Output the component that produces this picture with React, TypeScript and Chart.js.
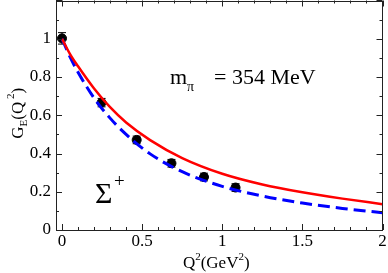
import React, { useEffect, useRef } from "react";
import { Chart, registerables } from "chart.js";

Chart.register(...registerables);

const curveQ2 = [0, 0.05, 0.1, 0.2, 0.3, 0.4, 0.55, 0.75, 1.0, 1.25, 1.5, 1.75, 2.0];
const redCurve = [1.0, 0.92, 0.856, 0.74, 0.642, 0.562, 0.47, 0.376, 0.294, 0.238, 0.197, 0.164, 0.135];
const blueCurve = [1.0, 0.905, 0.825, 0.69, 0.585, 0.5, 0.398, 0.305, 0.228, 0.178, 0.141, 0.113, 0.09];

const dataQ2 = [0, 0.247, 0.466, 0.683, 0.886, 1.083];
const dataGE = [1.002, 0.666, 0.471, 0.349, 0.277, 0.222];
const dataErr = [0.03, 0.022, 0.02, 0.02, 0.02, 0.02];

const xTicks = [0, 0.5, 1, 1.5, 2];
const yTicks = [0, 0.2, 0.4, 0.6, 0.8, 1];
const xMinor = 0.1;
const yMinor = 0.1;

const SERIF = "'Liberation Serif', 'DejaVu Serif', serif";
const OFF = 5; // canvas is shifted up by this amount

const decorPlugin = {
  id: "decor",
  beforeDatasetsDraw(chart: any) {
    const ctx = chart.ctx;
    const xs = chart.scales.x;
    const ys = chart.scales.y;
    ctx.save();
    ctx.strokeStyle = "#000";
    ctx.lineWidth = 1;
    for (let i = 0; i < dataQ2.length; i++) {
      const px = xs.getPixelForValue(dataQ2[i]);
      const pLo = ys.getPixelForValue(dataGE[i] - dataErr[i]);
      const pHi = ys.getPixelForValue(dataGE[i] + dataErr[i]);
      ctx.beginPath();
      ctx.moveTo(px, pLo);
      ctx.lineTo(px, pHi);
      ctx.moveTo(px - 4, pLo);
      ctx.lineTo(px + 4, pLo);
      ctx.moveTo(px - 4, pHi);
      ctx.lineTo(px + 4, pHi);
      ctx.stroke();
    }
    ctx.restore();
  },
  afterDraw(chart: any) {
    const ctx = chart.ctx;
    const a = chart.chartArea;
    const xs = chart.scales.x;
    const ys = chart.scales.y;
    ctx.save();
    ctx.strokeStyle = "#222";
    ctx.lineWidth = 1;
    ctx.strokeRect(Math.round(a.left) + 0.5, Math.round(a.top) + 0.5, Math.round(a.right - a.left) - 1, Math.round(a.bottom - a.top) - 1);
    ctx.beginPath();
    const xMinV = xs.min, xMaxV = xs.max;
    for (let k = Math.ceil(xMinV / xMinor - 1e-6); k * xMinor <= xMaxV + 1e-6; k++) {
      const v = k * xMinor;
      const major = Math.abs(v / 0.5 - Math.round(v / 0.5)) < 1e-6;
      const len = major ? 6 : 3;
      const px = Math.round(xs.getPixelForValue(v)) + 0.5;
      ctx.moveTo(px, a.bottom);
      ctx.lineTo(px, a.bottom - len);
      ctx.moveTo(px, a.top);
      ctx.lineTo(px, a.top + len);
    }
    for (let k = 0; k * yMinor <= ys.max + 1e-6; k++) {
      const v = k * yMinor;
      const major = Math.abs(v / 0.2 - Math.round(v / 0.2)) < 1e-6;
      const len = major ? 6 : 3;
      const py = Math.round(ys.getPixelForValue(v)) + 0.5;
      ctx.moveTo(a.left, py);
      ctx.lineTo(a.left + len, py);
      ctx.moveTo(a.right, py);
      ctx.lineTo(a.right - len, py);
    }
    ctx.stroke();

    ctx.fillStyle = "#000";
    ctx.textBaseline = "alphabetic";
    ctx.textAlign = "left";

    const big = "17px " + SERIF;
    const sup = "11px " + SERIF;
    const parts: [string, boolean][] = [["Q", false], ["2", true], ["(GeV", false], ["2", true], [")", false]];
    let w = 0;
    for (const [t, s] of parts) {
      ctx.font = s ? sup : big;
      w += ctx.measureText(t).width;
    }
    let x = (a.left + a.right) / 2 - w / 2 - 3;
    const by = 268 + OFF;
    for (const [t, s] of parts) {
      ctx.font = s ? sup : big;
      ctx.fillText(t, x, s ? by - 8 : by);
      x += ctx.measureText(t).width;
    }

    ctx.save();
    ctx.translate(23, (a.top + a.bottom) / 2 - 2);
    ctx.rotate(-Math.PI / 2);
    const yparts: [string, number][] = [["G", 0], ["E", 1], ["(Q", 0], [" 2", -1], [")", 0]];
    w = 0;
    for (const [t, s] of yparts) {
      ctx.font = s ? sup : big;
      w += ctx.measureText(t).width;
    }
    x = -w / 2;
    for (const [t, s] of yparts) {
      ctx.font = s ? sup : big;
      ctx.fillText(t, x, s === 1 ? 4 : s === -1 ? -9 : 0);
      x += ctx.measureText(t).width;
    }
    ctx.restore();

    ctx.font = "22px " + SERIF;
    ctx.fillText("m", 170, 84 + OFF);
    ctx.font = "14px " + SERIF;
    ctx.fillText("\u03c0", 187, 91 + OFF);
    ctx.font = "22px " + SERIF;
    ctx.fillText("= 354 MeV", 214, 84 + OFF);

    ctx.font = "30px " + SERIF;
    ctx.fillText("\u03a3", 95, 203 + OFF);
    ctx.font = "19px " + SERIF;
    ctx.fillText("+", 114, 187 + OFF);
    ctx.restore();
  },
};

export default function App() {
  const ref = useRef<HTMLCanvasElement | null>(null);
  useEffect(() => {
    if (!ref.current) return;
    const chart = new Chart(ref.current, {
      type: "scatter",
      data: {
        datasets: [
          {
            type: "line",
            data: curveQ2.map((q, i) => ({ x: q, y: redCurve[i] })),
            borderColor: "#ff0000",
            borderWidth: 2.5,
            pointRadius: 0,
            fill: false,
            cubicInterpolationMode: "monotone",
          },
          {
            type: "line",
            data: curveQ2.map((q, i) => ({ x: q, y: blueCurve[i] })),
            borderColor: "#0000ff",
            borderWidth: 3,
            borderDash: [12, 6],
            pointRadius: 0,
            fill: false,
            cubicInterpolationMode: "monotone",
          },
          {
            type: "scatter",
            data: dataQ2.map((q, i) => ({ x: q, y: dataGE[i] })),
            backgroundColor: "#000",
            borderColor: "#000",
            pointRadius: 4.5,
          },
        ],
      } as any,
      options: {
        animation: false,
        responsive: false,
        maintainAspectRatio: false,
        layout: { padding: { left: 0, top: 1, right: 4.5, bottom: 0 } },
        plugins: { legend: { display: false }, tooltip: { enabled: false } },
        scales: {
          x: {
            type: "linear",
            min: -0.0375,
            max: 2,
            grid: { display: false, drawTicks: false },
            border: { display: false },
            afterBuildTicks: (s: any) => {
              s.ticks = xTicks.map((v) => ({ value: v }));
            },
            afterFit: (s: any) => {
              s.height = 43;
              s.paddingLeft = 0;
              s.paddingRight = 0;
            },
            ticks: {
              font: { family: SERIF, size: 17 },
              color: "#000",
              padding: 1,
              maxRotation: 0,
              callback: (v: any) => String(v),
            },
          },
          y: {
            type: "linear",
            min: 0,
            max: 1.2,
            grid: { display: false, drawTicks: false },
            border: { display: false },
            afterBuildTicks: (s: any) => {
              s.ticks = yTicks.map((v) => ({ value: v }));
            },
            afterFit: (s: any) => {
              s.width = 56;
              s.paddingTop = 0;
              s.paddingBottom = 0;
            },
            ticks: {
              font: { family: SERIF, size: 17 },
              color: "#000",
              padding: 5,
              callback: (v: any) => String(Math.round(v * 10) / 10),
            },
          },
        },
      } as any,
      plugins: [decorPlugin],
    });
    return () => chart.destroy();
  }, []);
  return (
    <div style={{ position: "absolute", left: 0, top: 0, width: 388, height: 273, overflow: "hidden", background: "#fff" }}>
      <canvas
        ref={ref}
        width={388}
        height={273 + OFF}
        style={{ position: "absolute", left: 0, top: -OFF, width: 388, height: 273 + OFF, display: "block" }}
      />
    </div>
  );
}
